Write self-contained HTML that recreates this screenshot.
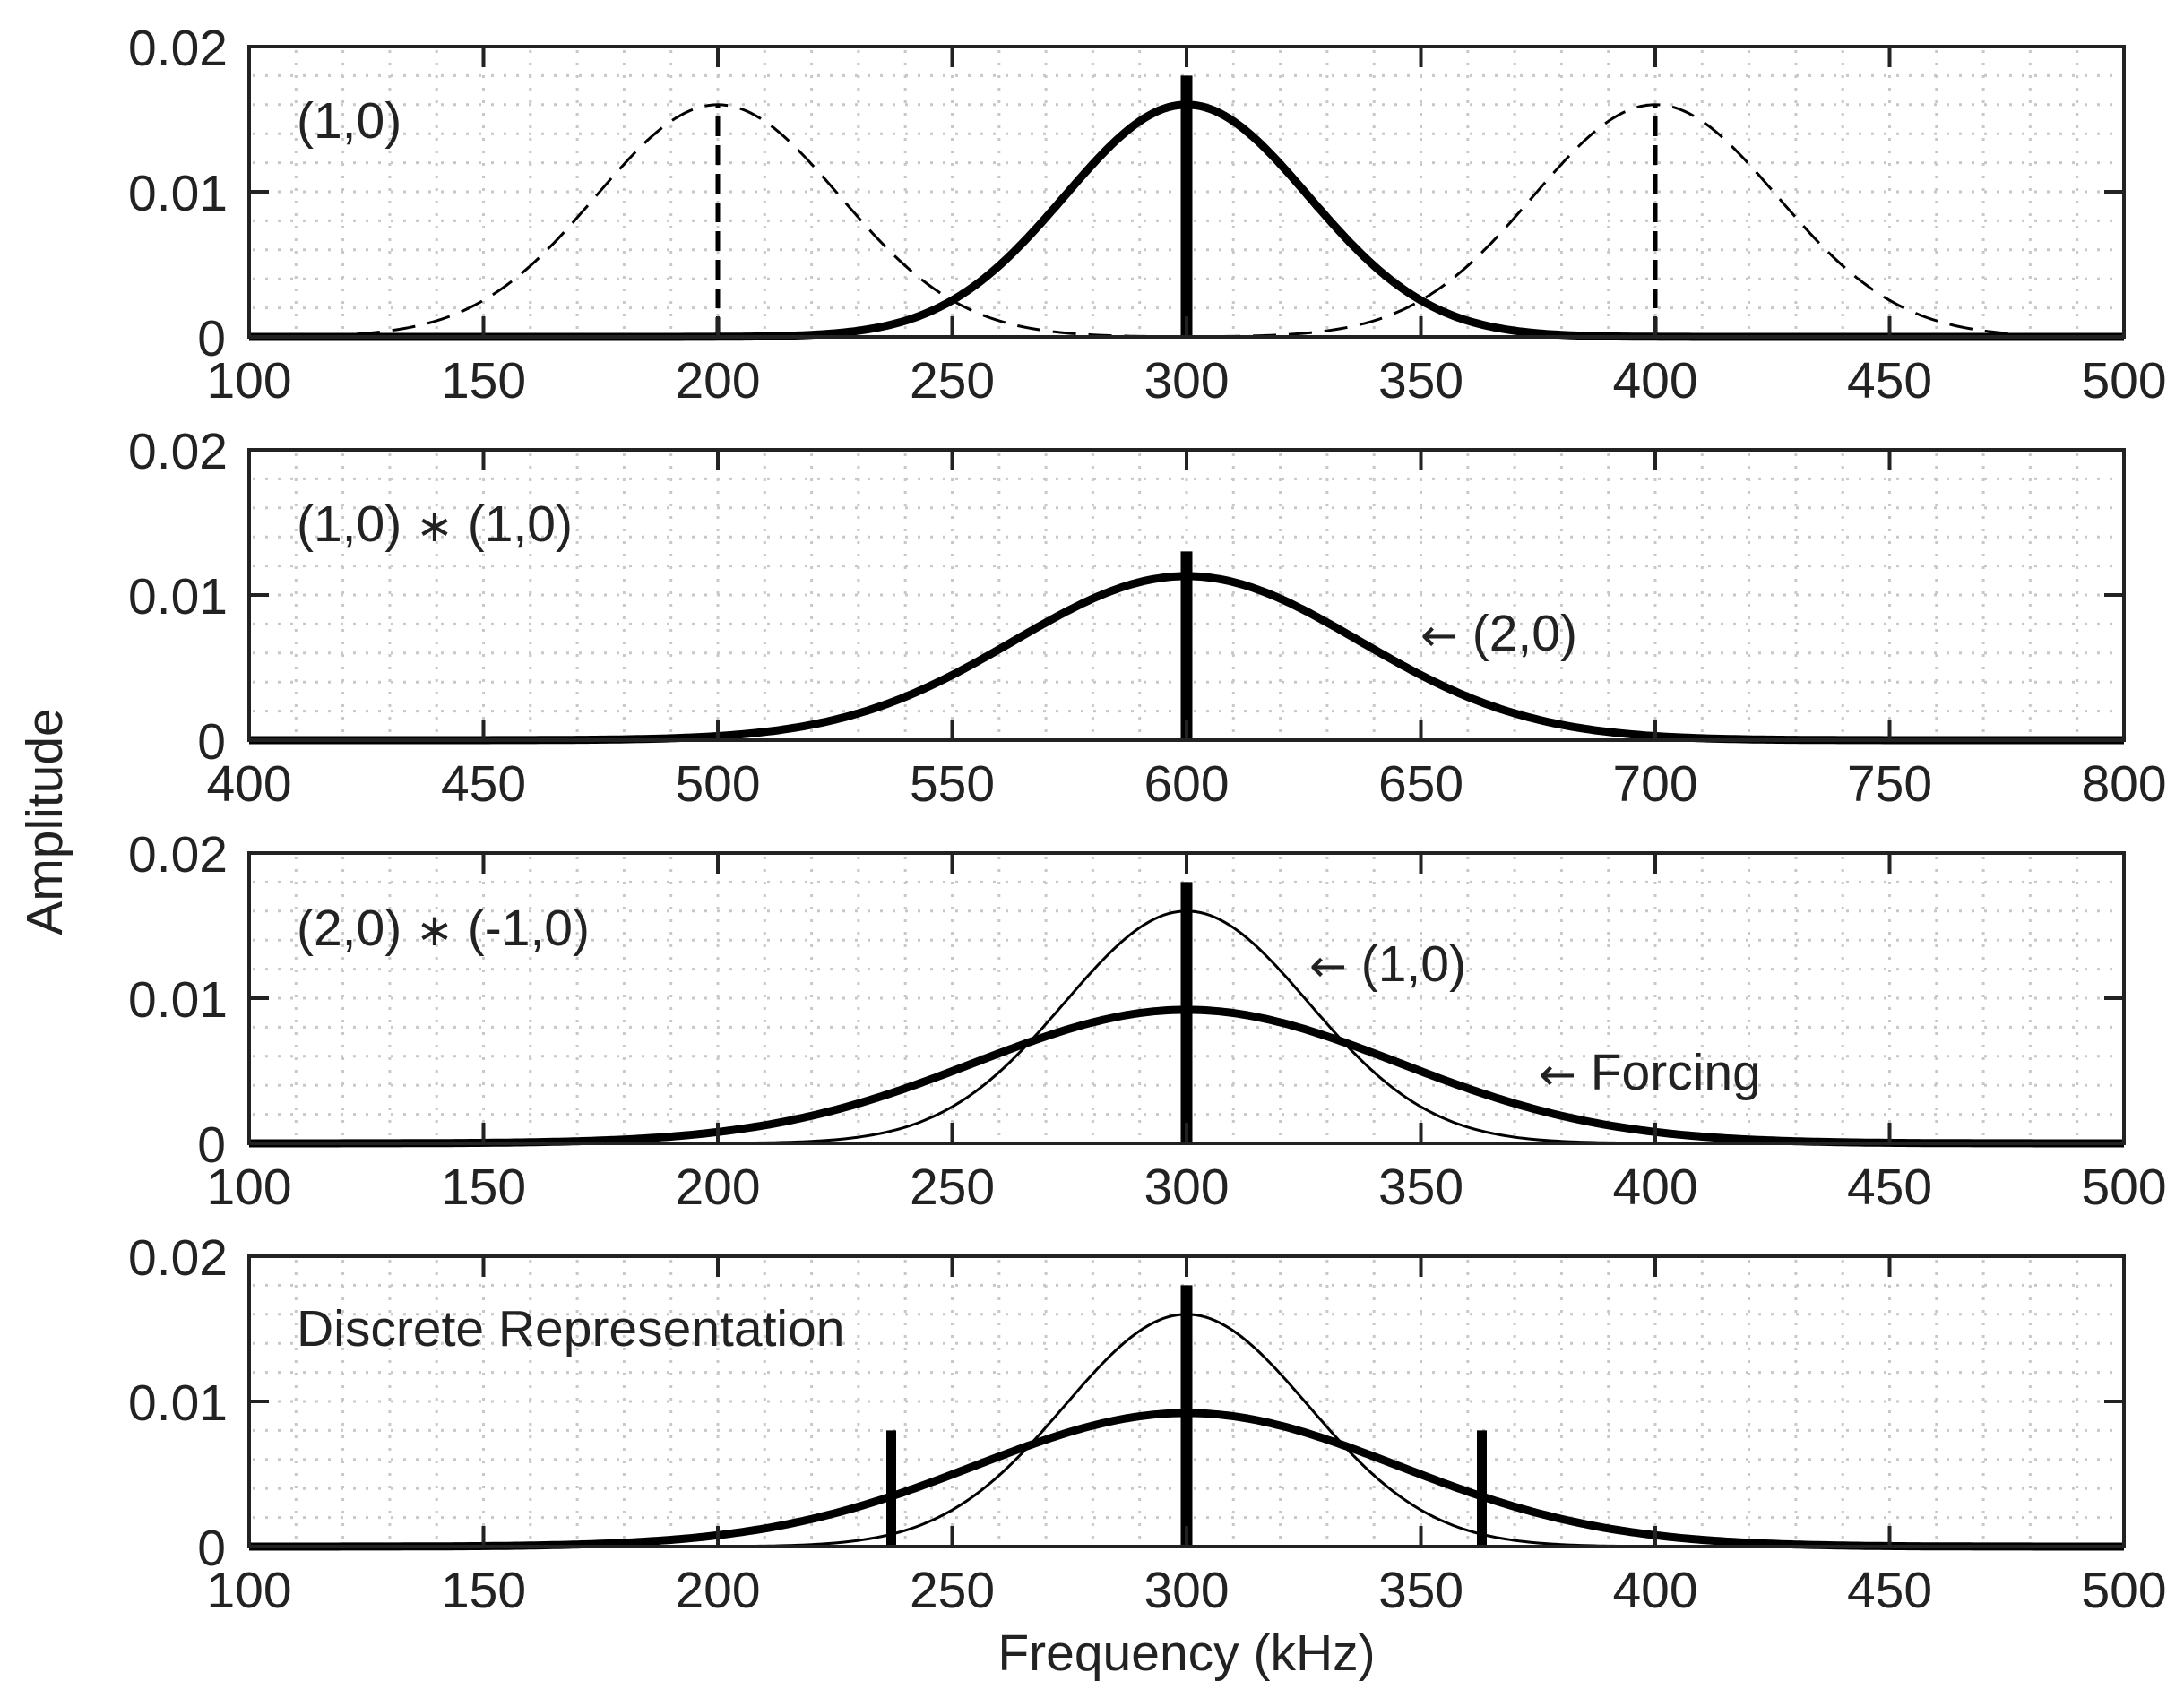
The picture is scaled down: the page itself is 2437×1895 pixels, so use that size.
<!DOCTYPE html>
<html><head><meta charset="utf-8"><style>
html,body{margin:0;padding:0;background:#fff}
svg{display:block}
text{font-family:"Liberation Sans",Arial,sans-serif;fill:#222}
.ar{font-family:"DejaVu Sans",sans-serif;font-size:50px}
</style></head><body>
<svg id="s" width="2437" height="1895" viewBox="0 0 2437 1895" xmlns="http://www.w3.org/2000/svg">
<g id="grid"></g>
<g id="data"></g>
<g id="axes"></g>
<g font-size="57">
<text x="54" y="917" text-anchor="middle" transform="rotate(-90 54 917)" dominant-baseline="middle">Amplitude</text>
<text x="1324" y="1864" text-anchor="middle">Frequency (kHz)</text>
<text x="331" y="154">(1,0)</text>
<text x="331" y="604">(1,0) <tspan font-size="50">∗</tspan> (1,0)</text>
<text x="1585" y="726"><tspan class="ar">←</tspan> (2,0)</text>
<text x="331" y="1055">(2,0) <tspan font-size="50">∗</tspan> (-1,0)</text>
<text x="1461" y="1095"><tspan class="ar">←</tspan> (1,0)</text>
<text x="1717" y="1216"><tspan class="ar">←</tspan> Forcing</text>
<text x="331" y="1502">Discrete Representation</text>
</g>
<g id="labels" font-size="57"></g>
</svg>
<script>
var NS="http://www.w3.org/2000/svg";
function el(p,t,a,txt){var e=document.createElementNS(NS,t);for(var k in a)e.setAttribute(k,a[k]);if(txt!==undefined)e.textContent=txt;document.getElementById(p).appendChild(e);return e;}
var L=278,R=2370,tops=[52,502,952,1402],H=324;
var ranges=[[100,500],[400,800],[100,500],[100,500]];
function g(x,m,s,a){return a*Math.exp(-(x-m)*(x-m)/(2*s*s));}
var s1=26,s2=26*Math.SQRT2,s3=26*Math.sqrt(3);
tops.forEach(function(T,i){
 var B=T+H,x0=ranges[i][0],x1=ranges[i][1];
 function X(v){return L+(v-x0)/(x1-x0)*(R-L);}
 function Y(v){return B-v/0.02*H;}
 for(var v=x0+10;v<x1;v+=10){el("grid","line",{x1:X(v),x2:X(v),y1:T+4,y2:B-4,stroke:"#c8c8c8","stroke-width":3,"stroke-dasharray":"3 11"});}
 for(var k=1;k<10;k++){var y=Y(k*0.002);el("grid","line",{x1:L+4,x2:R-4,y1:y,y2:y,stroke:"#c8c8c8","stroke-width":3,"stroke-dasharray":"3 11"});}
 el("axes","rect",{x:L,y:T,width:R-L,height:H,fill:"none",stroke:"#222","stroke-width":4});
 for(var v=x0;v<=x1;v+=50){var x=X(v);
  el("axes","line",{x1:x,x2:x,y1:T,y2:T+23,stroke:"#222","stroke-width":4});
  el("axes","line",{x1:x,x2:x,y1:B,y2:B-23,stroke:"#222","stroke-width":4});
  el("labels","text",{x:x,y:B+68,"text-anchor":"middle"},String(v));}
 [0,0.01,0.02].forEach(function(v,j){var y=Y(v);
  el("axes","line",{x1:L,x2:L+22,y1:y,y2:y,stroke:"#222","stroke-width":4});
  el("axes","line",{x1:R,x2:R-22,y1:y,y2:y,stroke:"#222","stroke-width":4});
  el("labels","text",{x:j==0?252:254,y:y+21,"text-anchor":"end"},["0","0.01","0.02"][j]);});
 function curve(fn,w,dash){var d="";for(var v=x0;v<=x1;v+=1){d+=(v==x0?"M":"L")+X(v).toFixed(1)+" "+Y(fn(v)).toFixed(1);}
  var a={d:d,fill:"none",stroke:"#000","stroke-width":w,"stroke-linejoin":"round"};if(dash)a["stroke-dasharray"]=dash;el("data","path",a);}
 function stem(v,h,w,dash){var a={x1:X(v),x2:X(v),y1:Y(0),y2:Y(h),stroke:"#000","stroke-width":w};if(dash)a["stroke-dasharray"]=dash;el("data","line",a);}
 if(i==0){curve(function(v){return g(v,200,s1,0.016)},3,"26 14");curve(function(v){return g(v,400,s1,0.016)},3,"26 14");
  curve(function(v){return g(v,300,s1,0.016)},9);stem(300,0.018,13);stem(200,0.016,5,"22 10");stem(400,0.016,5,"22 10");}
 if(i==1){curve(function(v){return g(v,600,s2,0.0113)},9);stem(600,0.013,13);}
 if(i==2){curve(function(v){return g(v,300,s1,0.016)},3);curve(function(v){return g(v,300,s3,0.0092)},9);stem(300,0.018,13);}
 if(i==3){curve(function(v){return g(v,300,s1,0.016)},3);curve(function(v){return g(v,300,s3,0.0092)},9);stem(300,0.018,13);stem(237,0.008,11);stem(363,0.008,11);}
});
</script>
</body></html>
